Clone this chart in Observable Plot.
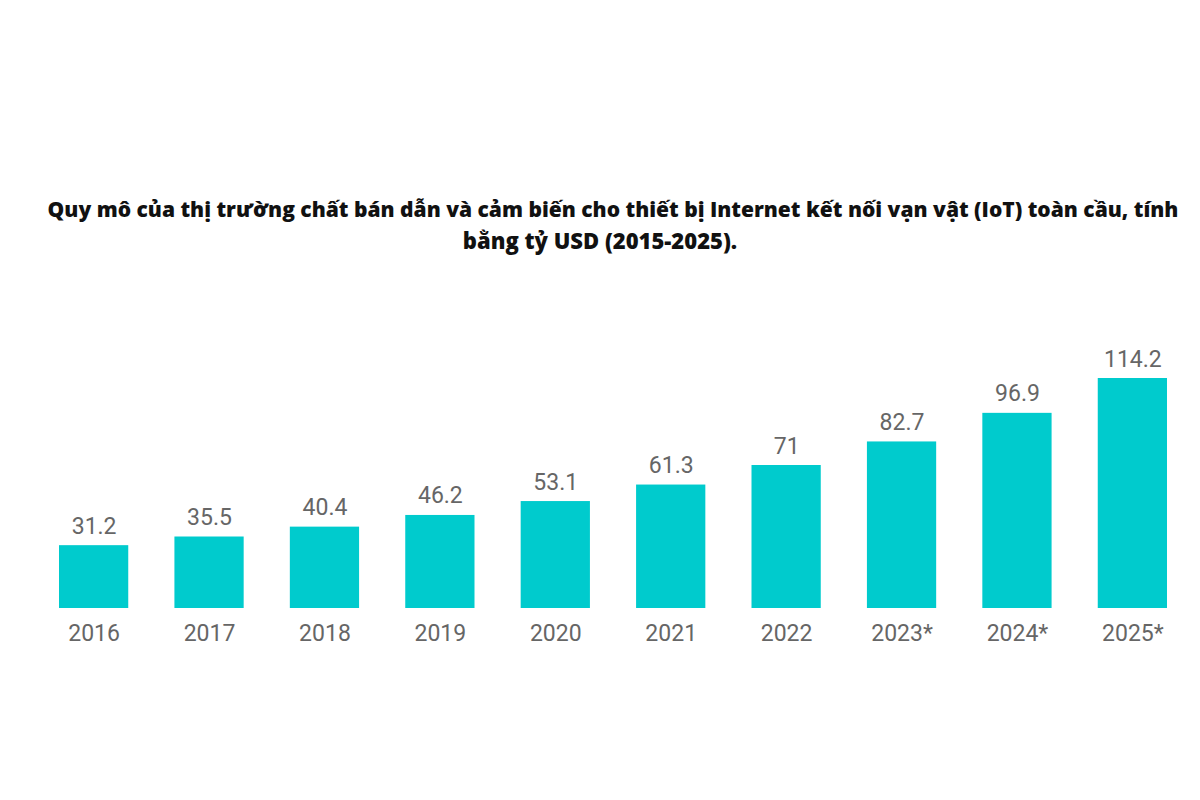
<!DOCTYPE html>
<html>
<head>
<meta charset="utf-8">
<script src="https://cdn.jsdelivr.net/npm/d3@7"></script>
<script src="https://cdn.jsdelivr.net/npm/@observablehq/plot@0.6"></script>
<style>
  html, body { margin: 0; padding: 0; background: #fff; width: 1200px; height: 800px; overflow: hidden; }
  #title { position: absolute; top: 194px; left: 0; width: 1200px; font-family: "Open Sans", sans-serif; font-weight: 800; font-size: 21px; color: #111; line-height: 31px; }
  #title div { text-align: center; white-space: nowrap; }
  #chart { position: absolute; top: 320px; left: 0; }
</style>
</head>
<body>
<div id="title">
  <div style="padding-left:26px">Quy mô của thị trường chất bán dẫn và cảm biến cho thiết bị Internet kết nối vạn vật (IoT) toàn cầu, tính</div>
  <div style="font-size:22px">bằng tỷ USD (2015-2025).</div>
</div>
<div id="chart"></div>
<script>
const years = ["2016", "2017", "2018", "2019", "2020", "2021", "2022", "2023*", "2024*", "2025*"];
const values = [31.2, 35.5, 40.4, 46.2, 53.1, 61.3, 71, 82.7, 96.9, 114.2];

const data = years.map((y, i) => ({year: y, value: values[i]}));

const chart = Plot.plot({
  width: 1200,
  height: 360,
  marginLeft: 59,
  marginRight: 33,
  marginTop: 58,
  marginBottom: 72,
  style: {fontFamily: "Roboto, sans-serif", background: "transparent"},
  x: {domain: years, paddingInner: 0.4, paddingOuter: 0, round: false, label: null},
  y: {domain: [0, 114.2], axis: null},
  marks: [
    Plot.barY(data, {x: "year", y: "value", fill: "#00cbcd"}),
    Plot.text(data, {x: "year", y: "value", text: d => String(d.value), lineAnchor: "bottom", dy: -12, fontSize: 23, fill: "#666666"}),
    Plot.axisX({tickSize: 0, tickPadding: 16, fontSize: 23, color: "#666666", label: null})
  ]
});
document.getElementById("chart").appendChild(chart);
</script>
</body>
</html>
